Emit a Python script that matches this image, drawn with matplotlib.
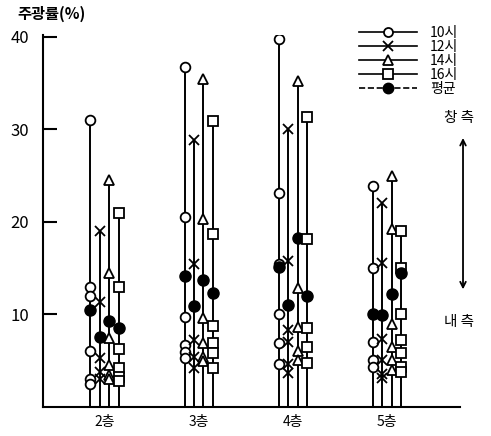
import matplotlib
matplotlib.use('Agg')
import matplotlib.pyplot as plt

plt.rcParams['font.family'] = ['Noto Sans CJK KR', 'DejaVu Sans']

floors = ['2층', '3층', '4층', '5층']
times = ['10시', '12시', '14시', '16시']

t10 = [[31, 13, 12, 6, 3, 2.5], [36.8, 20.5, 9.7, 6.7, 5.9, 5.3],
       [39.8, 23.1, 15.5, 10.1, 6.9, 4.7], [23.9, 15.0, 7.0, 5.1, 4.3]]
t12 = [[19, 11.3, 5.3, 3.8, 3.0], [28.9, 15.5, 7.2, 5.4, 4.2],
       [30.1, 15.8, 8.3, 7.0, 4.7, 3.7], [22.0, 15.6, 7.4, 5.1, 3.6, 3.1]]
t14 = [[24.5, 14.5, 7.5, 4.5, 3.5, 3.0], [35.5, 20.3, 9.6, 6.9, 5.4, 5.0],
       [35.2, 12.9, 8.6, 6.1, 5.1], [25.0, 19.2, 9.0, 6.5, 5.1, 4.0]]
t16 = [[21, 13, 6.3, 4.2, 3.2, 2.8], [30.9, 18.7, 8.8, 6.9, 5.8, 4.2],
       [31.4, 18.2, 8.5, 6.5, 4.8], [19.0, 15.0, 10.1, 7.2, 5.8, 4.3, 3.8]]
avg10 = [10.5, 14.2, 15.1, 10.1]
avg12 = [7.6, 10.9, 11.0, 9.9]
avg14 = [9.3, 13.7, 18.3, 12.2]
avg16 = [8.5, 12.3, 12.0, 14.5]

series = [t10, t12, t14, t16]
avgs = [avg10, avg12, avg14, avg16]
markers = ['o', 'x', '^', 's']
offsets = [-0.15, -0.05, 0.05, 0.15]

fig = plt.figure(figsize=(4.91, 4.36), dpi=100)
ax = fig.add_axes([0.0876, 0.0665, 0.85, 0.853])

for k in range(4):
    for i in range(len(floors)):
        x = i + offsets[k]
        vals = series[k][i]
        ax.vlines(x, 0, max(vals), color='black', lw=1.4)
        ax.plot([x] * len(vals), vals, ls='none', marker=markers[k],
                mfc='white', mec='black', mew=1.3, ms=7 if k != 1 else 7.5)
        ax.plot(x, avgs[k][i], ls='none', marker='o', mfc='black', mec='black', ms=8)

# legend
handles = []
for k in range(4):
    h, = ax.plot([], [], color='black', lw=1.2, marker=markers[k], mfc='white',
                 mec='black', mew=1.3, ms=6.5)
    handles.append(h)
h, = ax.plot([], [], color='black', lw=1.2, ls='--', marker='o', mfc='black', mec='black', ms=7.5)
handles.append(h)
ax.legend(handles, times + ['평균'], loc='upper right', bbox_to_anchor=(0.95, 0.96),
          bbox_transform=fig.transFigure, frameon=False, handlelength=4.2,
          labelspacing=0.0, handletextpad=0.9, fontsize=10, borderpad=0.1)

ax.set_xlim(-0.654, 3.78)
ax.set_ylim(0, 40.2)
ax.set_yticks([10, 20, 30, 40])
ax.set_xticks(range(len(floors)))
ax.set_xticklabels(floors, fontsize=10)
ax.tick_params(axis='x', length=0, pad=6)
ax.tick_params(axis='y', direction='in', length=10, width=1.5, labelsize=12, pad=10)
for s in ['top', 'right']:
    ax.spines[s].set_visible(False)
ax.spines['left'].set_linewidth(1.5)
ax.spines['bottom'].set_linewidth(1.5)

fig.text(0.035, 0.968, '주광률(%)', fontsize=11, fontweight='bold', va='center', ha='left')

# window side / interior side arrow
fig.text(0.935, 0.73, '창 측', fontsize=10.5, ha='center', va='center')
fig.text(0.935, 0.262, '내 측', fontsize=10.5, ha='center', va='center')
ax.annotate('', xy=(0.943, 0.69), xytext=(0.943, 0.33), xycoords='figure fraction',
            textcoords='figure fraction',
            arrowprops=dict(arrowstyle='<->', color='black', lw=1.3))

fig.savefig('out.png', dpi=100)
